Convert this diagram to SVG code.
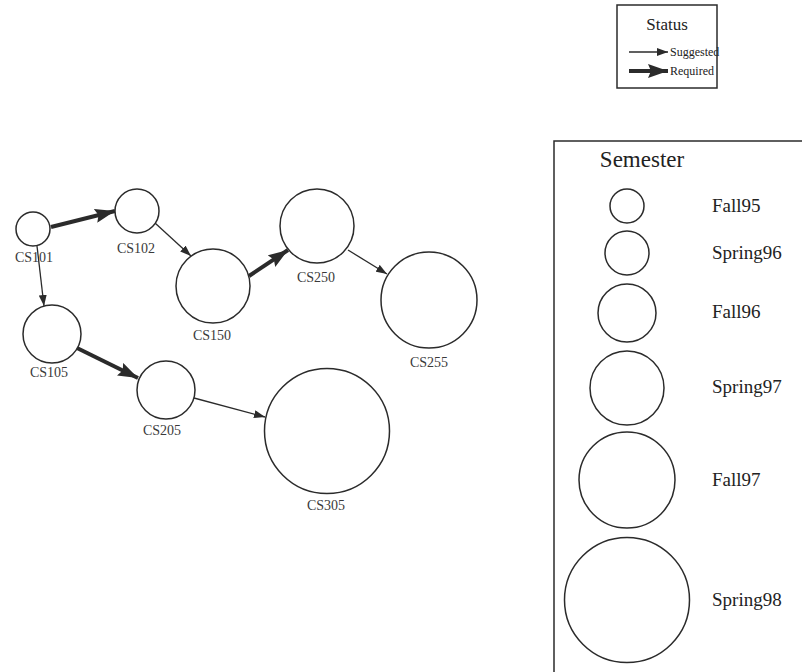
<svg xmlns="http://www.w3.org/2000/svg" width="802" height="672" viewBox="0 0 802 672">
<defs>
<style>
.node{fill:#fff;stroke:#2b2b2b;stroke-width:1.5}
.lbl{font-family:"Liberation Serif","Times New Roman",serif;font-size:14px;fill:#3a3a3a;text-anchor:middle}
.leg{font-family:"Liberation Serif","Times New Roman",serif;fill:#222}
.thin{stroke:#2b2b2b;stroke-width:1.3;fill:none}
.thick{stroke:#2b2b2b;stroke-width:4;fill:none}
.box{fill:none;stroke:#2b2b2b;stroke-width:1.5}
</style>
<marker id="ah" markerUnits="userSpaceOnUse" markerWidth="11" markerHeight="8" refX="11" refY="4" orient="auto">
<path d="M0,0 L11,4 L0,8 z" fill="#2b2b2b"/>
</marker>
<marker id="ahb" markerUnits="userSpaceOnUse" markerWidth="20" markerHeight="14" refX="20" refY="7" orient="auto">
<path d="M0,0 L20,7 L0,14 L3,7 z" fill="#2b2b2b"/>
</marker>
</defs>

<g id="status-legend">
<rect class="box" x="617" y="5" width="100" height="83"/>
<text class="leg" x="667" y="30" font-size="17" text-anchor="middle">Status</text>
<line class="thin" x1="629" y1="52" x2="668" y2="52" marker-end="url(#ah)"/>
<text class="leg" x="670" y="56" font-size="12">Suggested</text>
<line class="thick" x1="629" y1="71" x2="668" y2="71" marker-end="url(#ahb)"/>
<text class="leg" x="670" y="75" font-size="12">Required</text>
</g>

<g id="semester-legend">
<path class="box" d="M810,141 L554,141 L554,680"/>
<text class="leg" x="642" y="167" font-size="23" text-anchor="middle">Semester</text>
<circle class="node" cx="627" cy="206" r="17"/>
<text class="leg" x="712" y="212" font-size="19">Fall95</text>
<circle class="node" cx="627" cy="253" r="22"/>
<text class="leg" x="712" y="259" font-size="19">Spring96</text>
<circle class="node" cx="627" cy="313" r="29"/>
<text class="leg" x="712" y="318" font-size="19">Fall96</text>
<circle class="node" cx="627" cy="388" r="37"/>
<text class="leg" x="712" y="393" font-size="19">Spring97</text>
<circle class="node" cx="627" cy="480" r="48"/>
<text class="leg" x="712" y="486" font-size="19">Fall97</text>
<circle class="node" cx="627" cy="600" r="62.5"/>
<text class="leg" x="712" y="606" font-size="19">Spring98</text>
</g>

<g id="connectors">
<line class="thick" x1="51" y1="227" x2="115" y2="211" marker-end="url(#ahb)"/>
<line class="thin" x1="37" y1="246" x2="44" y2="306" marker-end="url(#ah)"/>
<line class="thin" x1="155" y1="223" x2="191" y2="256" marker-end="url(#ah)"/>
<line class="thick" x1="249" y1="276" x2="288" y2="250" marker-end="url(#ahb)"/>
<line class="thin" x1="348" y1="250" x2="387" y2="274" marker-end="url(#ah)"/>
<line class="thick" x1="77" y1="348" x2="138" y2="378" marker-end="url(#ahb)"/>
<line class="thin" x1="194" y1="398" x2="265" y2="417" marker-end="url(#ah)"/>
</g>

<g id="CS101"><circle class="node" cx="33" cy="229" r="17"/><text class="lbl" x="34" y="262">CS101</text></g>
<g id="CS102"><circle class="node" cx="137" cy="211" r="22"/><text class="lbl" x="136" y="253">CS102</text></g>
<g id="CS150"><circle class="node" cx="213" cy="286" r="37"/><text class="lbl" x="212" y="340">CS150</text></g>
<g id="CS250"><circle class="node" cx="317" cy="226" r="37"/><text class="lbl" x="316" y="282">CS250</text></g>
<g id="CS255"><circle class="node" cx="429" cy="300" r="48"/><text class="lbl" x="429" y="367">CS255</text></g>
<g id="CS105"><circle class="node" cx="52" cy="334" r="29"/><text class="lbl" x="49" y="377">CS105</text></g>
<g id="CS205"><circle class="node" cx="166" cy="390" r="29"/><text class="lbl" x="162" y="435">CS205</text></g>
<g id="CS305"><circle class="node" cx="327" cy="431" r="62.5"/><text class="lbl" x="326" y="510">CS305</text></g>
</svg>
